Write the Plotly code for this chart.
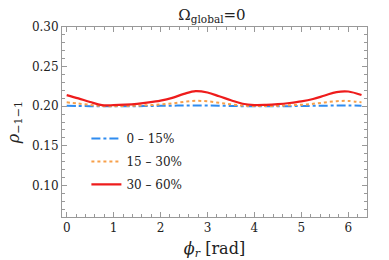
import plotly.graph_objects as go

phi = [0.0, 0.25, 0.5, 0.75, 1.0, 1.25, 1.5, 1.75, 2.0, 2.25, 2.5, 2.75, 3.0, 3.25,
       3.5, 3.75, 4.0, 4.25, 4.5, 4.75, 5.0, 5.25, 5.5, 5.75, 6.0, 6.283]
rho_0_15 = [0.2006, 0.2003, 0.2000, 0.1998, 0.1998, 0.1999, 0.2000, 0.2002, 0.2004, 0.2006,
            0.2008, 0.2009, 0.2008, 0.2006, 0.2003, 0.2000, 0.1998, 0.1998, 0.1999, 0.2000,
            0.2002, 0.2004, 0.2006, 0.2008, 0.2009, 0.2006]
rho_15_30 = [0.2048, 0.2033, 0.2016, 0.2001, 0.2000, 0.2003, 0.2007, 0.2013, 0.2022, 0.2035,
             0.2054, 0.2068, 0.2061, 0.2043, 0.2024, 0.2007, 0.2001, 0.2002, 0.2005, 0.2011,
             0.2018, 0.2030, 0.2047, 0.2063, 0.2066, 0.2048]
rho_30_60 = [0.2140, 0.2098, 0.2052, 0.2014, 0.2013, 0.2019, 0.2030, 0.2047, 0.2070, 0.2105,
             0.2155, 0.2190, 0.2172, 0.2125, 0.2075, 0.2030, 0.2014, 0.2016, 0.2025, 0.2040,
             0.2060, 0.2090, 0.2135, 0.2178, 0.2185, 0.2140]
labels = ["0 – 15%", "15 – 30%", "30 – 60%"]

font = "DejaVu Serif"
fig = go.Figure()
fig.add_trace(go.Scatter(x=phi, y=rho_0_15, mode="lines", name=labels[0], line_shape="spline",
                         legendgroup="a", line=dict(color="#2f8cf0", width=2, dash="dashdot")))
fig.add_trace(go.Scatter(x=phi, y=rho_15_30, mode="lines", name=labels[1], line_shape="spline",
                         legendgroup="b", line=dict(color="#f7a04a", width=2, dash="dot")))
fig.add_trace(go.Scatter(x=phi, y=rho_30_60, mode="lines", name=labels[2], line_shape="spline",
                         legendgroup="c", line=dict(color="#ee1c1c", width=2.2)))

axis_common = dict(showline=True, linecolor="#999999", linewidth=1, mirror="ticks",
                   ticks="inside", ticklen=5, tickcolor="#999999", showgrid=False, zeroline=False,
                   automargin=False,
                   tickfont=dict(family=font, size=12, color="#222222"))
fig.update_xaxes(range=[-0.1, 6.4], dtick=1, tick0=0,
                 minor=dict(ticks="inside", dtick=0.2, ticklen=3, tickcolor="#999999"),
                 title=dict(text="<i>ϕ<sub>r</sub></i> [rad]", font=dict(family=font, size=16, color="#222222"),
                            standoff=8),
                 **axis_common)
fig.update_yaxes(range=[0.06, 0.30], dtick=0.05, tick0=0.1, tickformat=".2f",
                 minor=dict(ticks="inside", dtick=0.01, ticklen=3, tickcolor="#999999"),
                 title=dict(text="<i>ρ</i><sub>−1−1</sub>", font=dict(family=font, size=16, color="#222222"),
                            standoff=8),
                 **axis_common)
fig.update_layout(
    width=389, height=260,
    margin=dict(l=62, r=22, t=27, b=43),
    plot_bgcolor="white", paper_bgcolor="white",
    title=dict(text="Ω<sub>global</sub>=0", x=0.545, xanchor="center", y=0.965, yanchor="top",
               font=dict(family=font, size=15, color="#222222")),
    legend=dict(x=0.08, y=0.49, xanchor="left", yanchor="top", bgcolor="rgba(0,0,0,0)",
                font=dict(family=font, size=12, color="#222222"), tracegroupgap=4, itemwidth=30),
)
fig.write_html("out.html", config={"displayModeBar": False},
               post_script="document.body.style.margin='0';document.body.style.overflow='hidden';")
